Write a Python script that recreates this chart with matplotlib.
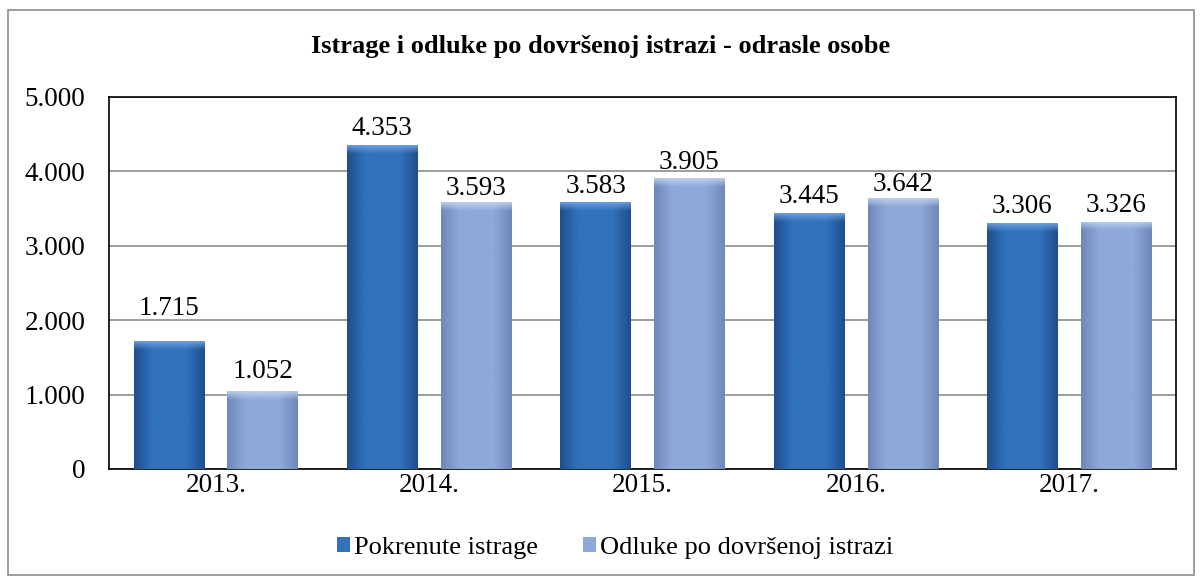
import matplotlib
matplotlib.use("Agg")
import matplotlib.pyplot as plt
import numpy as np
from matplotlib.patches import Rectangle
from matplotlib.colors import LinearSegmentedColormap, to_rgba

years = ["2013.", "2014.", "2015.", "2016.", "2017."]
pokrenute = [1715, 4353, 3583, 3445, 3306]
odluke = [1052, 3593, 3905, 3642, 3326]
series_names = ["Pokrenute istrage", "Odluke po dovršenoj istrazi"]
title = "Istrage i odluke po dovršenoj istrazi - odrasle osobe"
yticks = [0, 1000, 2000, 3000, 4000, 5000]

# label gap above bar tops (points) - layout only
gap_pok = [19, 7, 7, 7, 7]
gap_odl = [9, 5, 7, 5, 7]

def fmt(v):
    return f"{v:,}".replace(",", ".")

plt.rcParams['font.family'] = ['Liberation Serif', 'DejaVu Serif']

fig = plt.figure(figsize=(12.02, 5.78), dpi=100)
# outer border
fig.patches.append(Rectangle((8/1202, 1-575/578), 1186/1202, 565/578, transform=fig.transFigure,
                             fill=False, edgecolor='#8c8c8c', linewidth=1.2))
ax = fig.add_axes([109/1202, 1-469/578, (1176-109)/1202, (469-97)/578])

x = np.arange(len(years))
w = 0.33
off = 0.22
base_cols = ['#3172bb', '#8ea9d8']
edge_cols = ['#1f4f8f', '#6f88ba']
top_cols = ['#78a8e8', '#c8d8f2']

bars1 = ax.bar(x - off, pokrenute, w, color=base_cols[0], label=series_names[0], zorder=3)
bars2 = ax.bar(x + off, odluke, w, color=base_cols[1], label=series_names[1], zorder=3)

# gradient shading clipped to bars
for bars, bc, ec, tc in [(bars1, base_cols[0], edge_cols[0], top_cols[0]),
                         (bars2, base_cols[1], edge_cols[1], top_cols[1])]:
    cmap = LinearSegmentedColormap.from_list('g', [ec, bc, bc, bc, ec])
    tcmap = LinearSegmentedColormap.from_list('t', [to_rgba(tc, 0.0), to_rgba(tc, 0.85)])
    for b in bars:
        x0, y0 = b.get_x(), b.get_y()
        bw, bh = b.get_width(), b.get_height()
        grad = np.linspace(0, 1, 64).reshape(1, -1)
        im = ax.imshow(grad, extent=[x0, x0 + bw, y0, y0 + bh], aspect='auto',
                       cmap=cmap, zorder=3.5, interpolation='bicubic')
        im.set_clip_path(b)
        vg = np.linspace(0, 1, 32).reshape(-1, 1)
        im2 = ax.imshow(vg, extent=[x0, x0 + bw, y0 + bh - 120, y0 + bh], aspect='auto',
                        cmap=tcmap, origin='lower', zorder=3.6, interpolation='bicubic')
        im2.set_clip_path(b)

ax.set_xlim(-0.5, len(years) - 0.5)
ax.set_ylim(0, 5000)
ax.set_yticks(yticks)
ax.set_yticklabels([fmt(v) for v in yticks], fontsize=19.5)
ax.set_xticks(x)
ax.set_xticklabels(years, fontsize=19.5)
ax.tick_params(axis='both', length=0)
ax.tick_params(axis='x', pad=3)
ax.tick_params(axis='y', pad=17)
ax.grid(axis='y', color='#8c8c8c', linewidth=1.2, zorder=0)
for s in ax.spines.values():
    s.set_color('black')
    s.set_linewidth(1.2)

for bars, vals, gaps in [(bars1, pokrenute, gap_pok), (bars2, odluke, gap_odl)]:
    for b, v, g in zip(bars, vals, gaps):
        ax.annotate(fmt(v), (b.get_x() + b.get_width() / 2, v), xytext=(0, g),
                    textcoords='offset points', ha='center', va='baseline',
                    fontsize=19.5, zorder=5)

fig.text(0.5, 1 - 47/578, title, ha='center', va='center', fontsize=19, fontweight='bold')

leg = fig.legend(handles=[bars1, bars2], labels=series_names, loc='center',
                 bbox_to_anchor=(615/1202, 1 - 548/578), ncol=2, frameon=False, fontsize=19,
                 handlelength=0.5, handleheight=0.5, handletextpad=0.15, columnspacing=1.7)

fig.savefig("out.png", dpi=100)
